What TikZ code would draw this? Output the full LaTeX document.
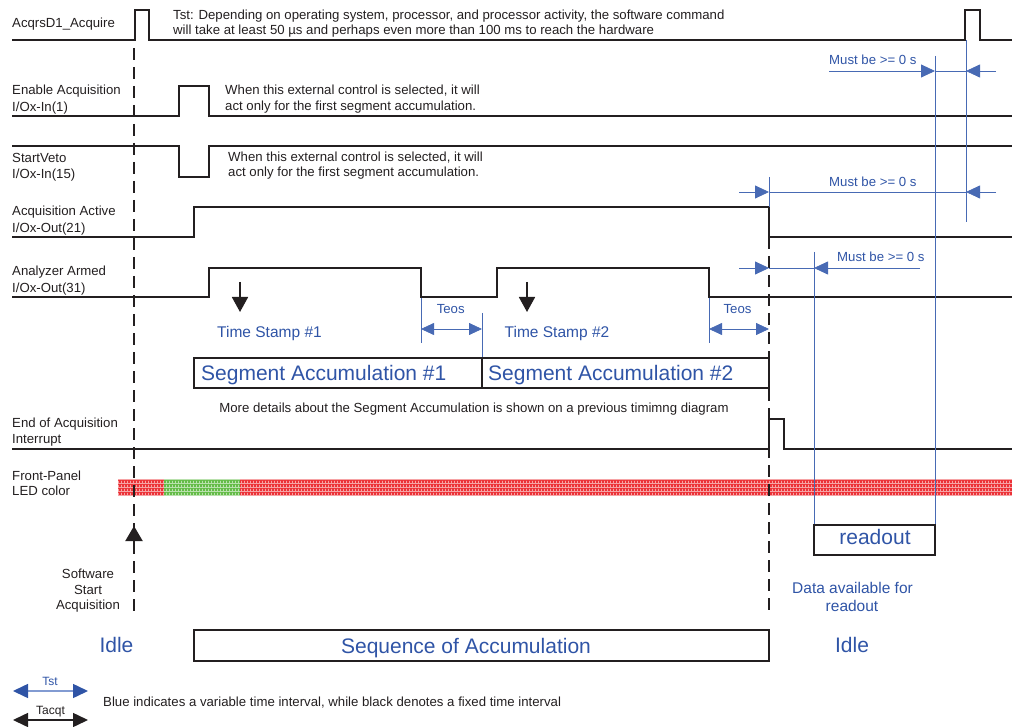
\documentclass[tikz,border=0pt]{standalone}
\usepackage{fontspec}
\setmainfont{Liberation Sans}
\usetikzlibrary{arrows.meta,patterns}
\definecolor{sigblack}{RGB}{35,31,32}
\definecolor{tblue}{RGB}{47,84,166}
\definecolor{lblue}{RGB}{72,106,180}
\definecolor{legblue}{RGB}{130,155,210}
\definecolor{ledred}{RGB}{236,50,56}
\definecolor{ledgreen}{RGB}{100,188,72}
\pgfdeclarepatternformonly{ledgrid}{\pgfqpoint{0pt}{0pt}}{\pgfqpoint{3.4pt}{3.4pt}}{\pgfqpoint{3.4pt}{3.4pt}}{%
  \pgfpathrectangle{\pgfqpoint{0pt}{0pt}}{\pgfqpoint{3.4pt}{0.9pt}}%
  \pgfpathrectangle{\pgfqpoint{0pt}{0.9pt}}{\pgfqpoint{0.9pt}{2.5pt}}%
  \pgfusepath{fill}}
\begin{document}
\begin{tikzpicture}[x=1pt,y=-1pt,
  sig/.style={draw=sigblack,line width=1.8pt},
  vdash/.style={draw=sigblack,line width=2pt,dash pattern=on 12pt off 7pt},
  bl/.style={draw=lblue,line width=0.8pt},
  bhead/.style={-{Triangle[length=14pt,width=13pt]}},
  teos/.style={bl,{Triangle[length=13pt,width=12pt]}-{Triangle[length=13pt,width=12pt]}},
  lab/.style={anchor=base west,font=\fontsize{13.2}{15}\selectfont,text=sigblack,inner sep=0pt},
  clab/.style={lab,anchor=base},
  blab/.style={anchor=base west,font=\fontsize{13.2}{15}\selectfont,text=tblue,inner sep=0pt},
  bmid/.style={anchor=base,font=\fontsize{15.5}{18}\selectfont,text=tblue,inner sep=0pt},
  bbig/.style={anchor=base,font=\fontsize{21}{24}\selectfont,text=tblue,inner sep=0pt},
  boxline/.style={draw=sigblack,line width=1.5pt},
  legblarrow/.style={line width=1.5pt,draw=legblue,{Triangle[length=15pt,width=14pt,color=tblue]}-{Triangle[length=15pt,width=14pt,color=tblue]}},
  legbkarrow/.style={line width=1.5pt,draw=sigblack,{Triangle[length=15pt,width=14pt]}-{Triangle[length=15pt,width=14pt]}}
]
\useasboundingbox (0,0) rectangle (1012,727);

% ---------- signal labels ----------
\node[lab] (n1) at (12,27.5) {AcqrsD1\_Acquire};
\node[lab] (n2a) at (12,95) {Enable Acquisition};
\node[lab] (n2b) at (12,112) {I/Ox-In(1)};
\node[lab] (n3a) at (12,162.5) {StartVeto};
\node[lab] (n3b) at (12,179) {I/Ox-In(15)};
\node[lab] (n4a) at (12,215.5) {Acquisition Active};
\node[lab] (n4b) at (12,232.5) {I/Ox-Out(21)};
\node[lab] (n5a) at (12,275.5) {Analyzer Armed};
\node[lab] (n5b) at (12,293) {I/Ox-Out(31)};
\node[lab] (n6a) at (12,427.5) {End of Acquisition};
\node[lab] (n6b) at (12,443) {Interrupt};
\node[lab] (n7a) at (12,480) {Front-Panel};
\node[lab] (n7b) at (12,495.5) {LED color};

% ---------- comments ----------
\node[lab] (t1) at (173,19.5) {Tst: Depending on operating system, processor, and processor activity, the software command};
\node[lab] (t2) at (173,34.5) {will take at least 50 µs and perhaps even more than 100 ms to reach the hardware};
\node[lab] (e1) at (225,94.5) {When this external control is selected, it will};
\node[lab] (e2) at (225,110.5) {act only for the first segment accumulation.};
\node[lab] (v1) at (228,161.5) {When this external control is selected, it will};
\node[lab] (v2) at (228,176.5) {act only for the first segment accumulation.};
\node[clab] (md) at (474,412.5) {More details about the Segment Accumulation is shown on a previous timimng diagram};
\node[clab] (sw1) at (88,578) {Software};
\node[clab] (sw2) at (88,594) {Start};
\node[clab] (sw3) at (88,609) {Acquisition};

% ---------- LED bar ----------
\fill[ledred] (118,479) rectangle (1012,495);
\fill[ledgreen] (164,479) rectangle (240,495);
\fill[pattern=ledgrid,pattern color=white!55!ledred] (118,479) rectangle (164,495);
\fill[pattern=ledgrid,pattern color=white!55!ledgreen] (164,479) rectangle (240,495);
\fill[pattern=ledgrid,pattern color=white!55!ledred] (240,479) rectangle (1012,495);

% ---------- signals ----------
\draw[sig] (12,40) -| (135,10) -| (149,40) -| (965,10) -| (980,40) -- (1012,40);
\draw[sig] (12,116) -| (179,86) -| (209,116) -- (1012,116);
\draw[sig] (12,146) -| (179,177) -| (209,146) -- (1012,146);
\draw[sig] (12,237) -| (194,207) -| (769,237) -- (1012,237);
\draw[sig] (12,297) -| (209,268) -| (421,297) -| (497,268) -| (709,297) -- (1012,297);
\draw[sig] (12,449) -| (769,419) -| (784,449) -- (1012,449);

% ---------- dashed markers ----------
\draw[vdash] (134,48) -- (134,615);
\draw[vdash] (769,237) -- (769,615);

% software start arrow
\coordinate (ua0) at (134,545);
\coordinate (ua1) at (134,526);
\draw[draw=sigblack,line width=2pt,-{Triangle[length=15pt,width=17pt]}] (ua0) -- (ua1);

% time stamp arrows
\coordinate (ts1a) at (240,282); \coordinate (ts1b) at (240,312);
\coordinate (ts2a) at (527,282); \coordinate (ts2b) at (527,312);
\draw[draw=sigblack,line width=1.8pt,-{Triangle[length=15pt,width=16pt]}] (ts1a) -- (ts1b);
\draw[draw=sigblack,line width=1.8pt,-{Triangle[length=15pt,width=16pt]}] (ts2a) -- (ts2b);
\node[bmid] (tsl1) at (269.5,337.5) {Time Stamp \#1};
\node[bmid] (tsl2) at (557,337.5) {Time Stamp \#2};

% Teos
\draw[bl] (421,298) -- (421,343);
\draw[bl] (482,313) -- (482,358);
\draw[bl] (709,298) -- (709,343);
\draw[teos] (421,329) -- (482,329);
\draw[teos] (709,329) -- (769,329);
\node[blab,anchor=base] (te1) at (450.7,314) {Teos};
\node[blab,anchor=base] (te2) at (737.5,314) {Teos};

% segment boxes
\draw[boxline] (194,358) rectangle (769,388);
\draw[boxline] (482,358) -- (482,388);
\node[bbig,anchor=base west] (sa1) at (201,380.5) {Segment Accumulation \#1};
\node[bbig,anchor=base west] (sa2) at (488,380.5) {Segment Accumulation \#2};

% ---------- blue timing lines ----------
\draw[bl] (814,252) -- (814,525);
\draw[bl] (935,56) -- (935,525);
\draw[bl] (966,40) -- (966,222);
\draw[bl] (769,177) -- (769,207);

% Must be >= 0 s (1)
\draw[bl,bhead] (829,71) -- (935,71);
\draw[bl] (935,71) -- (966,71);
\draw[bl,bhead] (996,71) -- (966,71);
\node[blab] (m1) at (829,65) {Must be >= 0 s};
% (2)
\draw[bl,bhead] (739,192) -- (769,192);
\draw[bl] (769,192) -- (966,192);
\draw[bl,bhead] (996,192) -- (966,192);
\node[blab] (m2) at (829,186.7) {Must be >= 0 s};
% (3)
\draw[bl,bhead] (739,268) -- (769,268);
\draw[bl] (769,268) -- (814,268);
\draw[bl,bhead] (920,268) -- (814,268);
\node[blab] (m3) at (837,261.7) {Must be >= 0 s};

% readout
\draw[boxline] (814,525) rectangle (935,555);
\node[bbig] (ro) at (875,544) {readout};
\node[bmid] (da1) at (852.5,593.3) {Data available for};
\node[bmid] (da2) at (852,611.7) {readout};

% ---------- phases ----------
\node[bbig] (idle1) at (116.5,652.5) {Idle};
\draw[boxline] (194,630) rectangle (769,661);
\node[bbig] (seq) at (466,653) {Sequence of Accumulation};
\node[bbig] (idle2) at (852,652.5) {Idle};

% ---------- legend ----------
\draw[legblarrow] (13,691) -- (88,691);
\draw[legbkarrow] (13,720) -- (88,720);
\node[anchor=base,font=\fontsize{12}{14}\selectfont,text=tblue,inner sep=0pt] (lg1) at (50,685) {Tst};
\node[anchor=base,font=\fontsize{12}{14}\selectfont,text=sigblack,inner sep=0pt] (lg2) at (50.5,714) {Tacqt};
\node[lab] (lg3) at (103,706.7) {Blue indicates a variable time interval, while black denotes a fixed time interval};
\end{tikzpicture}
\end{document}
